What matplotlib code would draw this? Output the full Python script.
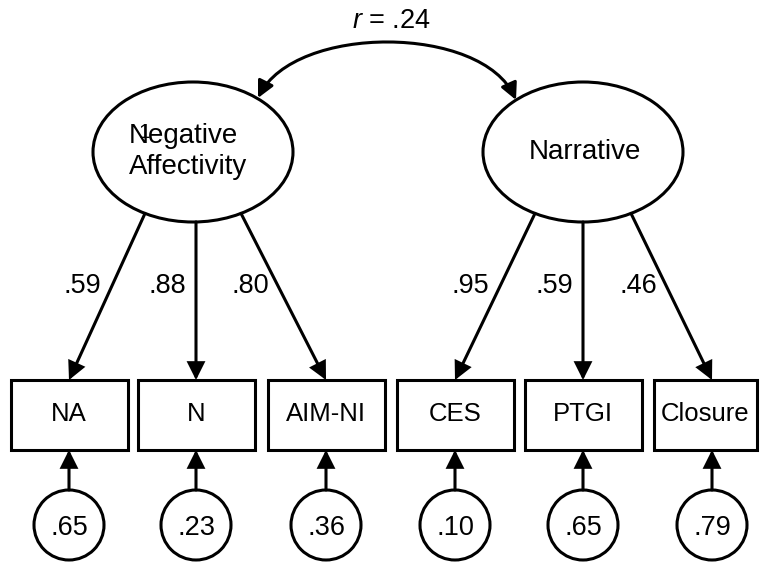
import matplotlib
matplotlib.use("Agg")
import numpy as np
import matplotlib.pyplot as plt
from matplotlib.patches import Ellipse, Circle, Rectangle, FancyArrowPatch
from matplotlib.path import Path

plt.rcParams["font.family"] = ["Liberation Sans", "DejaVu Sans"]
plt.rcParams["mathtext.fontset"] = "custom"
plt.rcParams["mathtext.it"] = "Liberation Sans:italic"
plt.rcParams["mathtext.rm"] = "Liberation Sans"

# model values
factors = ["Negative\nAffectivity", "Narrative"]
indicators = ["NA", "N", "AIM-NI", "CES", "PTGI", "Closure"]
loadings = [0.59, 0.88, 0.80, 0.95, 0.59, 0.46]
errors = [0.65, 0.23, 0.36, 0.10, 0.65, 0.79]
factor_r = 0.24

LW = 2.2
HEAD = "-|>,head_length=1.0,head_width=0.5"


def fmt(v):
    return "." + f"{v:.2f}".split(".")[1]


def arrow(ax, a, b, style=HEAD):
    ax.add_patch(FancyArrowPatch(a, b, arrowstyle=style, mutation_scale=10,
                                 lw=LW, color="black", shrinkA=0, shrinkB=0,
                                 joinstyle="miter", zorder=3))


fig = plt.figure(figsize=(7.6, 5.62), dpi=100)
ax = fig.add_axes([0, 0, 1, 1])
ax.set_xlim(0, 760)
ax.set_ylim(562, 0)
ax.axis("off")

# layout (pixels)
fac_x = [193, 583]
fac_y = 152
fac_w, fac_h = 200, 140
box_x = [69, 196, 326, 455, 583, 712]
box_top, box_bot = 380, 450
box_w = 117
err_y, err_r = 525, 35
start_dx = [-48, 0, 48]
txt = 19.5

# latent factors
for i, (fx, name) in enumerate(zip(fac_x, factors)):
    ax.add_patch(Ellipse((fx, fac_y), fac_w, fac_h, facecolor="white",
                         edgecolor="black", lw=LW, zorder=2))
    if "\n" in name:
        l1, l2 = name.split("\n")
        ax.text(129, 143, l1, fontsize=20, ha="left", va="baseline", zorder=4)
        ax.text(129, 174, l2, fontsize=20, ha="left", va="baseline", zorder=4)
        # stray "1" printed over the N in the original figure
        ax.text(144, 138, "1", fontsize=15, ha="center", va="baseline", zorder=5)
    else:
        ax.text(fx + 2, 159, name, fontsize=20, ha="center", va="baseline", zorder=4)

# correlation
p0 = (258, 98)
p3 = (516, 100)
curve = Path([p0, (295, 24), (482, 24), p3],
             [Path.MOVETO, Path.CURVE4, Path.CURVE4, Path.CURVE4])
ax.add_patch(FancyArrowPatch(path=curve, arrowstyle="<|-|>,head_length=1.0,head_width=0.5",
                             mutation_scale=10, lw=LW, color="black", zorder=3))
ax.text(391, 28, "$r$ = " + fmt(factor_r), fontsize=txt, ha="center", va="baseline")

# loadings, indicators, errors
for k, (ind, lam, err) in enumerate(zip(indicators, loadings, errors)):
    f = k // 3
    dx = start_dx[k % 3]
    bx = box_x[k]
    if dx == 0:
        dx = bx - fac_x[f]
    sx = fac_x[f] + dx
    sy = fac_y + fac_h / 2 * np.sqrt(1 - (dx / (fac_w / 2)) ** 2)
    arrow(ax, (sx, sy), (bx, box_top))

    ly = 288
    t = (ly - sy) / (box_top - sy)
    lx = sx + (bx - sx) * t
    ax.text(lx - 10, 293, fmt(lam), fontsize=txt, ha="right", va="baseline")

    left = bx - box_w / 2
    right = min(bx + box_w / 2, 757)
    ax.add_patch(Rectangle((left, box_top), right - left, box_bot - box_top,
                           facecolor="white", edgecolor="black", lw=LW,
                           joinstyle="miter", zorder=2))
    ax.text((left + right) / 2, 421, ind, fontsize=18.5, ha="center", va="baseline")

    ax.add_patch(Circle((bx, err_y), err_r, facecolor="white", edgecolor="black",
                        lw=LW, zorder=2))
    ax.text(bx, 535, fmt(err), fontsize=txt, ha="center", va="baseline")
    arrow(ax, (bx, err_y - err_r), (bx, box_bot))

fig.savefig("out.png", dpi=100, facecolor="white")
